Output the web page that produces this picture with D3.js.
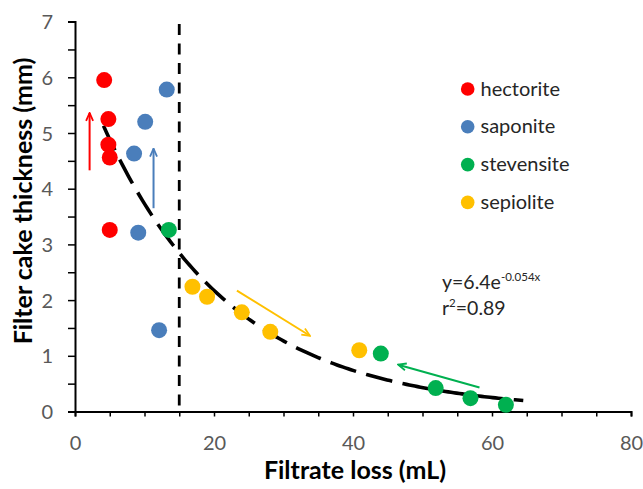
<!DOCTYPE html>
<html>
<head>
<meta charset="utf-8">
<script src="https://cdn.jsdelivr.net/npm/d3@7"></script>
<style>
  html, body { margin: 0; padding: 0; background: #fff; }
  svg { display: block; }
</style>
</head>
<body>
<svg id="chart" width="643" height="489"></svg>
<script>
// ---- data ----
const seriesNames = ["hectorite", "saponite", "stevensite", "sepiolite"];
const seriesColors = ["#ff0000", "#4a7ebb", "#00b050", "#ffc000"];
const hectoriteX = [4.2, 4.8, 4.8, 5.0, 5.0];
const hectoriteY = [5.95, 5.25, 4.79, 4.56, 3.26];
const saponiteX = [13.2, 10.1, 8.5, 9.1, 12.1];
const saponiteY = [5.78, 5.20, 4.63, 3.21, 1.46];
const stevensiteX = [13.5, 44.0, 51.9, 56.9, 62.0];
const stevensiteY = [3.26, 1.04, 0.42, 0.24, 0.12];
const sepioliteX = [16.9, 19.0, 24.0, 28.1, 40.9];
const sepioliteY = [2.24, 2.06, 1.78, 1.43, 1.10];
const xTicks = [0, 20, 40, 60, 80];
const yTicks = [0, 1, 2, 3, 4, 5, 6, 7];
const fitA = 6.4, fitB = -0.054;          // trendline shown on chart: y = 6.4 e^(-0.054x)
const fitStart = 4.1, fitEnd = 64.8;
const cutoffX = 15;
// arrows in data units, with the series colour they use
const arrowSeries = [0, 1, 3, 2];
const arrowX1 = [2.1, 11.3, 23.3, 58.2];
const arrowY1 = [4.33, 3.65, 2.17, 0.43];
const arrowX2 = [2.1, 11.3, 33.8, 46.5];
const arrowY2 = [5.36, 4.72, 1.36, 0.84];

// ---- chart ----
const svg = d3.select("#chart");
const x = d3.scaleLinear().domain([0, 80]).range([75, 631]);
const y = d3.scaleLinear().domain([0, 7]).range([411.5, 21.6]);
const font = "Lato, 'Open Sans', sans-serif";
const gray = "#595959";

// axes
const xAxis = d3.axisBottom(x).tickValues(d3.range(0, 81, 5)).tickSize(5).tickFormat(d => xTicks.includes(d) ? d : "");
const gx = svg.append("g").attr("transform", `translate(0,${y(0)})`).call(xAxis);
const yAxis = d3.axisLeft(y).tickValues(d3.range(0, 7.01, 0.5)).tickSize(7).tickFormat(d => yTicks.includes(d) ? d : "");
const gy = svg.append("g").attr("transform", `translate(${x(0)},0)`).call(yAxis);
[gx, gy].forEach(g => {
  g.select(".domain").attr("stroke", "#000").attr("stroke-width", 2);
  g.selectAll(".tick line").attr("stroke", "#000").attr("stroke-width", 1.5);
  g.selectAll(".tick text").attr("fill", gray).attr("font-family", font).attr("font-size", 20);
});
gx.selectAll(".tick text").attr("y", 31).attr("dy", "0.35em");
gy.selectAll(".tick text").attr("x", -22).attr("dy", "0.35em");

// vertical cutoff line
svg.append("line")
  .attr("x1", x(cutoffX)).attr("x2", x(cutoffX))
  .attr("y1", 24).attr("y2", y(0))
  .attr("stroke", "#000").attr("stroke-width", 2.8).attr("stroke-dasharray", "11,8.5");

// fit curve (sampled from the equation printed on the chart)
const fitSamples = d3.range(fitStart, fitEnd + 0.001, 0.4);
const line = d3.line().x(d => x(d)).y(d => y(fitA * Math.exp(fitB * d)));
svg.append("path").datum(fitSamples)
  .attr("d", line).attr("fill", "none")
  .attr("stroke", "#000").attr("stroke-width", 3.6).attr("stroke-dasharray", "27,10.5");

// points
const allSeries = [
  [hectoriteX, hectoriteY], [saponiteX, saponiteY], [stevensiteX, stevensiteY], [sepioliteX, sepioliteY]
];
allSeries.forEach(([xs, ys], i) => {
  svg.append("g").selectAll("circle").data(xs.map((v, j) => [v, ys[j]])).join("circle")
    .attr("cx", d => x(d[0])).attr("cy", d => y(d[1])).attr("r", 8)
    .attr("fill", seriesColors[i]);
});

// arrows
const defs = svg.append("defs");
seriesColors.forEach((c, i) => {
  defs.append("marker").attr("id", "ah" + i).attr("viewBox", "0 0 10 10")
    .attr("refX", 9).attr("refY", 5).attr("markerWidth", 10).attr("markerHeight", 10)
    .attr("markerUnits", "userSpaceOnUse").attr("orient", "auto")
    .append("path").attr("d", "M1,1.5 L9,5 L1,8.5").attr("fill", "none").attr("stroke", c).attr("stroke-width", 1.8);
});
arrowSeries.forEach((s, i) => {
  svg.append("line")
    .attr("x1", x(arrowX1[i])).attr("y1", y(arrowY1[i]))
    .attr("x2", x(arrowX2[i])).attr("y2", y(arrowY2[i]))
    .attr("stroke", seriesColors[s]).attr("stroke-width", 2)
    .attr("marker-end", `url(#ah${s})`);
});

// legend
const lg = svg.append("g");
seriesNames.forEach((n, i) => {
  const cy = 89 + i * 37.8;
  lg.append("circle").attr("cx", 467.7).attr("cy", cy).attr("r", 6.8).attr("fill", seriesColors[i]);
  lg.append("text").attr("x", 480.5).attr("y", cy).attr("dy", "0.33em")
    .attr("font-family", font).attr("font-size", 20).attr("fill", "#262626").text(n);
});

// equation
const eq = svg.append("text").attr("x", 442).attr("y", 289).attr("font-family", font).attr("font-size", 19.5).attr("fill", "#262626");
eq.append("tspan").text("y=6.4e");
eq.append("tspan").attr("font-size", 11.5).attr("dy", -8).text("-0.054x");
const r2 = svg.append("text").attr("x", 442).attr("y", 315).attr("font-family", font).attr("font-size", 19.5).attr("fill", "#262626");
r2.append("tspan").text("r");
r2.append("tspan").attr("font-size", 11.5).attr("dy", -8).text("2");
r2.append("tspan").attr("dy", 8).text("=0.89");

// axis titles
svg.append("text").attr("x", 355).attr("y", 479).attr("text-anchor", "middle")
  .attr("font-family", font).attr("font-weight", "bold").attr("font-size", 25).attr("fill", "#000")
  .text("Filtrate loss (mL)");
svg.append("text").attr("transform", "translate(32,201) rotate(-90)").attr("text-anchor", "middle")
  .attr("font-family", font).attr("font-weight", "bold").attr("font-size", 25).attr("fill", "#000")
  .text("Filter cake thickness (mm)");
</script>
</body>
</html>
